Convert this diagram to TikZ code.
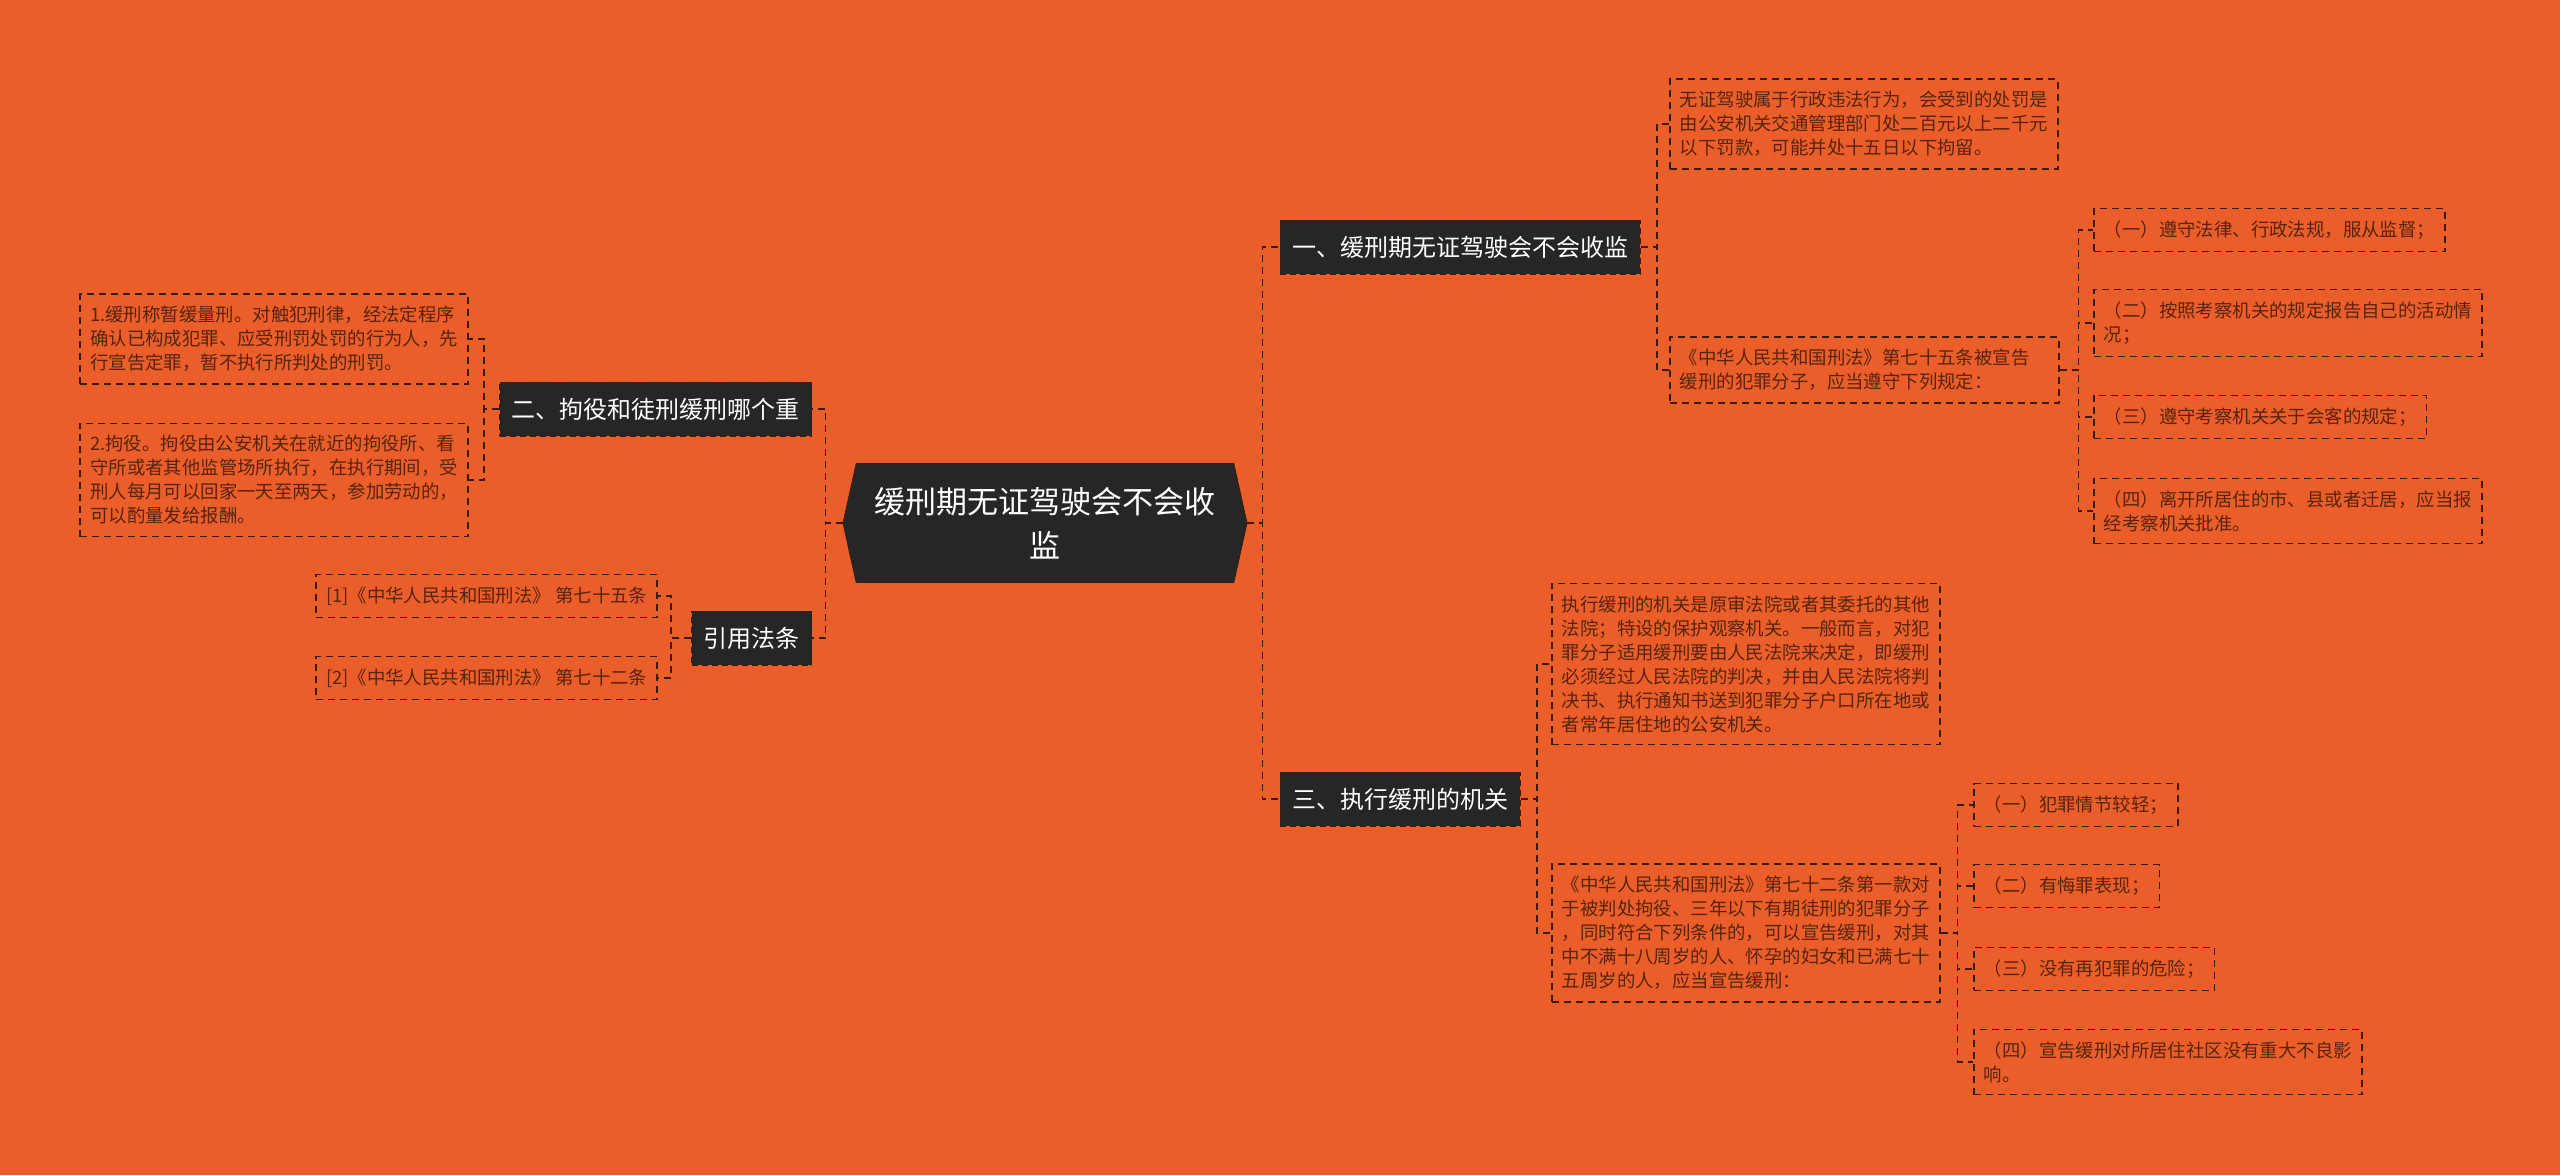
\documentclass[tikz,border=0pt]{standalone}
\usepackage{fontspec}
\setmainfont{Noto Sans CJK SC}
\usetikzlibrary{shapes.symbols, positioning}
\definecolor{bgC}{RGB}{235,94,41}
\definecolor{nodeC}{RGB}{38,38,38}
\definecolor{lineC}{RGB}{58,28,14}
\definecolor{leafC}{RGB}{86,36,15}
\tikzset{
  root/.style={signal, signal to=east and west, signal pointer angle=155, fill=nodeC, draw=lineC, text=white, minimum width=202pt, minimum height=59.5pt, align=center, font=\fontsize{15.5}{22}\selectfont},
  topic/.style={rectangle, draw=lineC, dash pattern=on 3pt off 2pt, fill=nodeC, text=white, minimum height=27pt, inner xsep=6pt, font=\fontsize{12}{14}\selectfont},
  leaf/.style={rectangle, draw=lineC, line width=0.8pt, dash pattern=on 3.5pt off 2.5pt, text=leafC, align=left, inner xsep=5pt, inner ysep=6pt, font=\fontsize{9.2}{12}\selectfont},
  link/.style={draw=lineC, line width=0.8pt, dash pattern=on 3.5pt off 2.5pt},
}
\begin{document}
\begin{tikzpicture}[x=0.5pt, y=-0.5pt]
\useasboundingbox[fill=bgC] (0,0) rectangle (2560,1175);
% centre
\node[root] (main) at (1045,523) {缓刑期无证驾驶会不会收\\监};
% left side
\node[topic, anchor=east] (jiyi) at (812,409) {二、拘役和徒刑缓刑哪个重};
\node[topic, anchor=east] (cite) at (812,638) {引用法条};
\node[leaf, anchor=east] (huanxing) at (469,339) {1.缓刑称暂缓量刑。对触犯刑律，经法定程序\\确认已构成犯罪、应受刑罚处罚的行为人，先\\行宣告定罪，暂不执行所判处的刑罚。};
\node[leaf, anchor=east] (juyi) at (469,480) {2.拘役。拘役由公安机关在就近的拘役所、看\\守所或者其他监管场所执行，在执行期间，受\\刑人每月可以回家一天至两天，参加劳动的，\\可以酌量发给报酬。};
\node[leaf, anchor=east] (law75) at (658,596) {[1]《中华人民共和国刑法》 第七十五条};
\node[leaf, anchor=east] (law72) at (658,678) {[2]《中华人民共和国刑法》 第七十二条};
% right side
\node[topic, anchor=west] (shoujian) at (1280,247) {一、缓刑期无证驾驶会不会收监};
\node[topic, anchor=west] (jiguan) at (1280,799) {三、执行缓刑的机关};
\node[leaf, anchor=west] (penalty) at (1669,124) {无证驾驶属于行政违法行为，会受到的处罚是\\由公安机关交通管理部门处二百元以上二千元\\以下罚款，可能并处十五日以下拘留。};
\node[leaf, anchor=west, text width=184.5pt] (art75) at (1669,370) {《中华人民共和国刑法》第七十五条被宣告\\缓刑的犯罪分子，应当遵守下列规定：};
\node[leaf, anchor=west] (rule1) at (2093,230) {（一）遵守法律、行政法规，服从监督；};
\node[leaf, anchor=west] (rule2) at (2093,323) {（二）按照考察机关的规定报告自己的活动情\\况；};
\node[leaf, anchor=west] (rule3) at (2093,417) {（三）遵守考察机关关于会客的规定；};
\node[leaf, anchor=west] (rule4) at (2093,511) {（四）离开所居住的市、县或者迁居，应当报\\经考察机关批准。};
\node[leaf, anchor=west] (organ) at (1551,664) {执行缓刑的机关是原审法院或者其委托的其他\\法院；特设的保护观察机关。一般而言，对犯\\罪分子适用缓刑要由人民法院来决定，即缓刑\\必须经过人民法院的判决，并由人民法院将判\\决书、执行通知书送到犯罪分子户口所在地或\\者常年居住地的公安机关。};
\node[leaf, anchor=west] (art72) at (1551,933) {《中华人民共和国刑法》第七十二条第一款对\\于被判处拘役、三年以下有期徒刑的犯罪分子\\，同时符合下列条件的，可以宣告缓刑，对其\\中不满十八周岁的人、怀孕的妇女和已满七十\\五周岁的人，应当宣告缓刑：};
\node[leaf, anchor=west] (cond1) at (1973,805) {（一）犯罪情节较轻；};
\node[leaf, anchor=west] (cond2) at (1973,886) {（二）有悔罪表现；};
\node[leaf, anchor=west] (cond3) at (1973,969) {（三）没有再犯罪的危险；};
\node[leaf, anchor=west] (cond4) at (1973,1062) {（四）宣告缓刑对所居住社区没有重大不良影\\响。};

% connectors
\foreach \t in {jiyi, cite}
  \draw[link] (main.west) -- ++(-17,0) |- (\t.east);
\foreach \t in {huanxing, juyi}
  \draw[link] (jiyi.west) -- ++(-15,0) |- (\t.east);
\foreach \t in {law75, law72}
  \draw[link] (cite.west) -- ++(-20,0) |- (\t.east);
\foreach \t in {shoujian, jiguan}
  \draw[link] (main.east) -- ++(15,0) |- (\t.west);
\foreach \t in {penalty, art75}
  \draw[link] (shoujian.east) -- ++(16,0) |- (\t.west);
\foreach \t in {rule1, rule2, rule3, rule4}
  \draw[link] (art75.east) -- ++(19,0) |- (\t.west);
\foreach \t in {organ, art72}
  \draw[link] (jiguan.east) -- ++(16,0) |- (\t.west);
\foreach \t in {cond1, cond2, cond3, cond4}
  \draw[link] (art72.east) -- ++(17,0) |- (\t.west);
\end{tikzpicture}
\end{document}
